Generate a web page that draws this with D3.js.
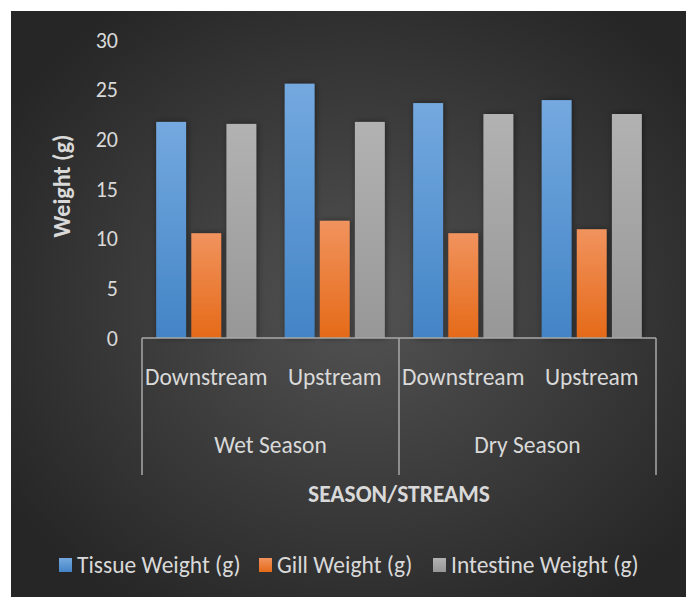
<!DOCTYPE html>
<html>
<head>
<meta charset="utf-8">
<script src="https://cdn.jsdelivr.net/npm/d3@7/dist/d3.min.js"></script>
<style>
	body { margin: 0; background: #fff; }
	svg text { font-family: Calibri, Carlito, "Open Sans", sans-serif; fill: #d9d9d9; }
</style>
</head>
<body>
<svg id="chart" width="686" height="597"></svg>
<script>
var seasons = ["Wet Season", "Dry Season"];
var streams = ["Downstream", "Upstream"];
var series = ["Tissue Weight (g)", "Gill Weight (g)", "Intestine Weight (g)"];
var tissueWeight = [21.75, 25.6, 23.65, 23.95];
var gillWeight = [10.55, 11.8, 10.55, 10.95];
var intestineWeight = [21.55, 21.75, 22.55, 22.55];
var yTicks = [0, 5, 10, 15, 20, 25, 30];

var colors = [
	{ top: "#74a9df", bottom: "#4384c6" },
	{ top: "#f1935e", bottom: "#e56a18" },
	{ top: "#b2b2b2", bottom: "#979797" }
];

var svg = d3.select("#chart");
var defs = svg.append("defs");

var bg = defs.append("radialGradient").attr("id", "bg")
	.attr("cx", "0.52").attr("cy", "0.5").attr("r", "0.62");
bg.append("stop").attr("offset", "0").attr("stop-color", "#535353");
bg.append("stop").attr("offset", "1").attr("stop-color", "#262626");

colors.forEach(function(c, i) {
	var g = defs.append("linearGradient").attr("id", "bar" + i)
		.attr("x1", 0).attr("y1", 0).attr("x2", 0).attr("y2", 1);
	g.append("stop").attr("offset", "0").attr("stop-color", c.top);
	g.append("stop").attr("offset", "1").attr("stop-color", c.bottom);
});

var shadow = defs.append("filter").attr("id", "shadow")
	.attr("x", "-50%").attr("y", "-10%").attr("width", "200%").attr("height", "120%");
shadow.append("feDropShadow").attr("dx", 1).attr("dy", 0).attr("stdDeviation", 3)
	.attr("flood-color", "#000").attr("flood-opacity", 0.45);

svg.append("rect").attr("x", 11).attr("y", 11).attr("width", 675).attr("height", 586)
	.attr("fill", "url(#bg)");

// categories: season x stream
var categories = [];
seasons.forEach(function(s) {
	streams.forEach(function(t) { categories.push({ season: s, stream: t }); });
});
var values = [tissueWeight, gillWeight, intestineWeight];
var rows = categories.map(function(c, i) {
	return { key: i, season: c.season, stream: c.stream,
		vals: series.map(function(name, j) { return { series: j, value: values[j][i] }; }) };
});

var x0 = d3.scaleBand().domain(d3.range(categories.length)).range([142, 656]);
var x1 = d3.scaleBand().domain(d3.range(series.length))
	.range([14.2, x0.bandwidth() - 14.2]).paddingInner(0.15);
var y = d3.scaleLinear().domain([0, 30]).range([338, 40]);

// y tick labels
svg.append("g").selectAll("text").data(yTicks).enter().append("text")
	.attr("x", 118).attr("y", function(d) { return y(d); })
	.attr("dy", "0.35em").attr("text-anchor", "end")
	.style("font-size", "22px")
	.text(function(d) { return d; });

// bars
var groups = svg.append("g").selectAll("g").data(rows).enter().append("g")
	.attr("transform", function(d) { return "translate(" + x0(d.key) + ",0)"; });
groups.selectAll("rect").data(function(d) { return d.vals; }).enter().append("rect")
	.attr("x", function(d) { return x1(d.series); })
	.attr("y", function(d) { return y(d.value); })
	.attr("width", x1.bandwidth())
	.attr("height", function(d) { return y(0) - y(d.value); })
	.attr("fill", function(d) { return "url(#bar" + d.series + ")"; })
	.attr("filter", "url(#shadow)");

// category axis
var axis = svg.append("g").attr("stroke", "#a8a8a8").attr("stroke-width", 1.5).attr("fill", "none");
axis.append("line").attr("x1", x0.range()[0]).attr("x2", x0.range()[1])
	.attr("y1", y(0)).attr("y2", y(0));
var seasonEdges = [0, 2, 4].map(function(i) { return i < 4 ? x0(i) : x0.range()[1]; });
axis.selectAll("line.sep").data(seasonEdges).enter().append("line").attr("class", "sep")
	.attr("x1", function(d) { return d; }).attr("x2", function(d) { return d; })
	.attr("y1", y(0)).attr("y2", 475);

svg.append("g").selectAll("text").data(rows).enter().append("text")
	.attr("x", function(d) { return x0(d.key) + x0.bandwidth() / 2; })
	.attr("y", 377).attr("dy", "0.35em").attr("text-anchor", "middle")
	.style("font-size", "23.5px")
	.text(function(d) { return d.stream; });

svg.append("g").selectAll("text").data(seasons).enter().append("text")
	.attr("x", function(d, i) { return x0(i * 2) + x0.bandwidth(); })
	.attr("y", 445).attr("dy", "0.35em").attr("text-anchor", "middle")
	.style("font-size", "23.5px")
	.text(function(d) { return d; });

// axis titles
svg.append("text").attr("x", 399).attr("y", 494).attr("dy", "0.35em")
	.attr("text-anchor", "middle").style("font-size", "23.5px").style("font-weight", "bold")
	.text("SEASON/STREAMS");
svg.append("text").attr("transform", "translate(62,186) rotate(-90)")
	.attr("dy", "0.35em").attr("text-anchor", "middle")
	.style("font-size", "24px").style("font-weight", "bold")
	.text("Weight (g)");

// legend
var legendX = [59, 259, 433];
var legend = svg.append("g").selectAll("g").data(series).enter().append("g")
	.attr("transform", function(d, i) { return "translate(" + legendX[i] + ",565)"; });
legend.append("rect").attr("x", 0).attr("y", -7).attr("width", 13).attr("height", 14)
	.attr("fill", function(d, i) { return "url(#bar" + i + ")"; });
legend.append("text").attr("x", 18).attr("dy", "0.35em")
	.style("font-size", "23.5px")
	.text(function(d) { return d; });
</script>
</body>
</html>
